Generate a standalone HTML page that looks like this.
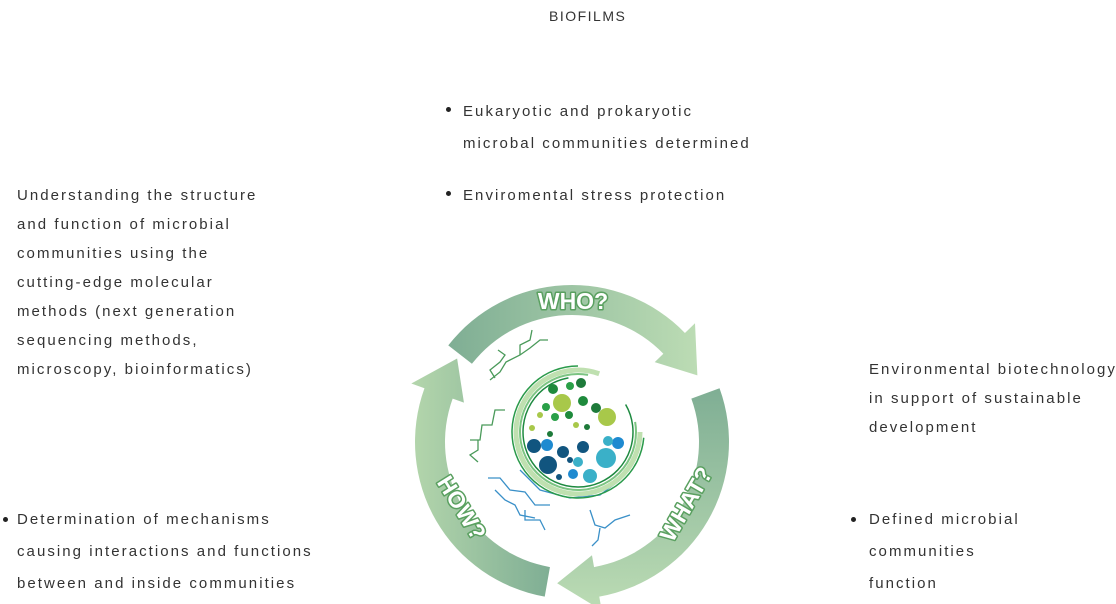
<!DOCTYPE html>
<html><head><meta charset="utf-8"><style>
html,body{margin:0;padding:0;background:#fff;}
body{width:1116px;height:604px;position:relative;overflow:hidden;font-family:"Liberation Sans",sans-serif;color:#333;font-size:15px;letter-spacing:2.05px;}
.t{position:absolute;white-space:nowrap;line-height:29px;}
.b{position:absolute;white-space:nowrap;line-height:32px;}
.dot{position:absolute;width:5px;height:5px;border-radius:50%;background:#222;}
svg{position:absolute;left:0;top:0;}
</style></head><body>
<div class="t" style="left:549px;top:2px;font-size:14px;letter-spacing:1.5px;">BIOFILMS</div>

<div class="dot" style="left:446px;top:107px"></div>
<div class="b" style="left:463px;top:96px">Eukaryotic and prokaryotic<br>microbal communities determined</div>
<div class="dot" style="left:446px;top:191px"></div>
<div class="b" style="left:463px;top:180px">Enviromental stress protection</div>

<div class="t" style="left:17px;top:181px">Understanding the structure<br>and function of microbial<br>communities using the<br>cutting-edge molecular<br>methods (next generation<br>sequencing methods,<br>microscopy, bioinformatics)</div>

<div class="t" style="left:869px;top:355px">Environmental biotechnology<br>in support of sustainable<br>development</div>

<div class="dot" style="left:3px;top:517px"></div>
<div class="b" style="left:17px;top:504px">Determination of mechanisms<br>causing interactions and functions<br>between and inside communities</div>

<div class="dot" style="left:851px;top:517px"></div>
<div class="b" style="left:869px;top:504px">Defined microbial<br>communities<br>function</div>

<svg id="s" width="1116" height="604" viewBox="0 0 1116 604">
<defs>
<linearGradient id="g1" x1="0" y1="0" x2="1" y2="0"><stop offset="0" stop-color="#7fae94"/><stop offset="1" stop-color="#bcdcb4"/></linearGradient>
<linearGradient id="g2" x1="0" y1="0" x2="0" y2="1"><stop offset="0" stop-color="#7fae94"/><stop offset="1" stop-color="#bcdcb4"/></linearGradient>
<linearGradient id="g3" x1="1" y1="0" x2="0" y2="0"><stop offset="0" stop-color="#7fae94"/><stop offset="1" stop-color="#b4d6ac"/></linearGradient>
</defs>
<g id="arcs"></g>
<g id="tree" fill="none" stroke-width="1.3"></g>
<g id="inner"></g>
<g font-family="Liberation Sans" font-weight="bold" font-size="23" fill="#fff" stroke="#5aa060" stroke-width="3" paint-order="stroke" stroke-linejoin="round" letter-spacing="0" text-anchor="middle">
<text x="573" y="309">WHO?</text>
<text transform="translate(693,508) rotate(-60)">WHAT?</text>
<text transform="translate(455,512) rotate(58)">HOW?</text>
</g>
</svg>
<script>
var cx=572,cy=442,Ro=157,Ri=127,NS="http://www.w3.org/2000/svg";
function P(a,r){a=a*Math.PI/180;return [cx+r*Math.sin(a),cy-r*Math.cos(a)];}
function band(a1,a2,grad){
 var o1=P(a1,Ro),o2=P(a2,Ro),i2=P(a2,Ri),i1=P(a1,Ri);
 var h1=P(a2,Ro+14),h2=P(a2,Ri-12),tip=P(a2+16,(Ro+Ri)/2);
 var d="M"+o1+" A"+Ro+" "+Ro+" 0 0 1 "+o2+" L"+h1+" L"+tip+" L"+h2+" L"+i2+" A"+Ri+" "+Ri+" 0 0 0 "+i1+" Z";
 var p=document.createElementNS(NS,"path");p.setAttribute("d",d);p.setAttribute("fill","url(#"+grad+")");
 document.getElementById("arcs").appendChild(p);
}
band(-52,46,"g1");band(70,170,"g2");band(190,290,"g3");
var tr=document.getElementById("tree");
function pl(pts,c){var p=document.createElementNS(NS,"polyline");p.setAttribute("points",pts);p.setAttribute("stroke",c);tr.appendChild(p);}
pl("490,380 500,372 506,362 520,355 530,348 540,340 548,340","#4a9a5a");
pl("495,378 490,370 500,362 505,355 498,350","#4a9a5a");
pl("520,355 520,345 530,340 532,330","#4a9a5a");
pl("470,440 480,440 482,425 492,425 495,410 505,410","#4a9a5a");
pl("478,440 478,450 470,455 478,462","#4a9a5a");
pl("488,478 500,478 510,490 525,492 535,505 550,505","#3a90c8");
pl("495,490 505,500 515,505 520,515 535,518","#3a90c8");
pl("525,510 525,520 540,520 545,530","#3a90c8");
pl("590,510 595,525 605,528 615,520 630,515","#3a90c8");
pl("600,528 598,540 592,546","#3a90c8");
pl("520,470 540,490 570,498 600,495 620,480","#3a90c8");
var inn=document.getElementById("inner");
function c(x,y,r,f){var e=document.createElementNS(NS,"circle");e.setAttribute("cx",x);e.setAttribute("cy",y);e.setAttribute("r",r);e.setAttribute("fill",f);inn.appendChild(e);}
function ring(r,col,w,a1,a2){var s=P(a1,r),e=P(a2,r);var p=document.createElementNS(NS,"path");p.setAttribute("d","M"+[s[0]+6,s[1]-10]+" A"+r+" "+r+" 0 1 1 "+[e[0]+6,e[1]-10]);p.setAttribute("fill","none");p.setAttribute("stroke",col);p.setAttribute("stroke-width",w);inn.appendChild(p);}
ring(62,"#bfe0b0",5,90,20);ring(58,"#7cc482",2,80,10);ring(66,"#2a9a4a",1.5,95,0);ring(55,"#1e8a40",1.5,60,350);
c(553,389,5,"#1e8a3c");c(570,386,4,"#2aa048");c(581,383,5,"#1e7a3a");c(562,403,9,"#a8c84a");c(546,407,4,"#2aa048");c(583,401,5,"#1e8a3c");c(596,408,5,"#1e7a3a");c(607,417,9,"#a8c84a");c(555,417,4,"#2aa048");c(569,415,4,"#1e8a3c");c(540,415,3,"#a8c84a");c(576,425,3,"#a8c84a");c(587,427,3,"#1e7a3a");c(532,428,3,"#a8c84a");c(550,434,3,"#1e7a3a");
c(534,446,7,"#11557f");c(547,445,6,"#1e8ad0");c(583,447,6,"#11557f");c(618,443,6,"#1e8ad0");c(548,465,9,"#11557f");c(563,452,6,"#11557f");c(606,458,10,"#3ab0c8");c(608,441,5,"#3ab0c8");c(578,462,5,"#3ab0c8");c(590,476,7,"#3ab0c8");c(573,474,5,"#1e8ad0");c(559,477,3,"#11557f");c(570,460,3,"#11557f");
</script>
</body></html>
